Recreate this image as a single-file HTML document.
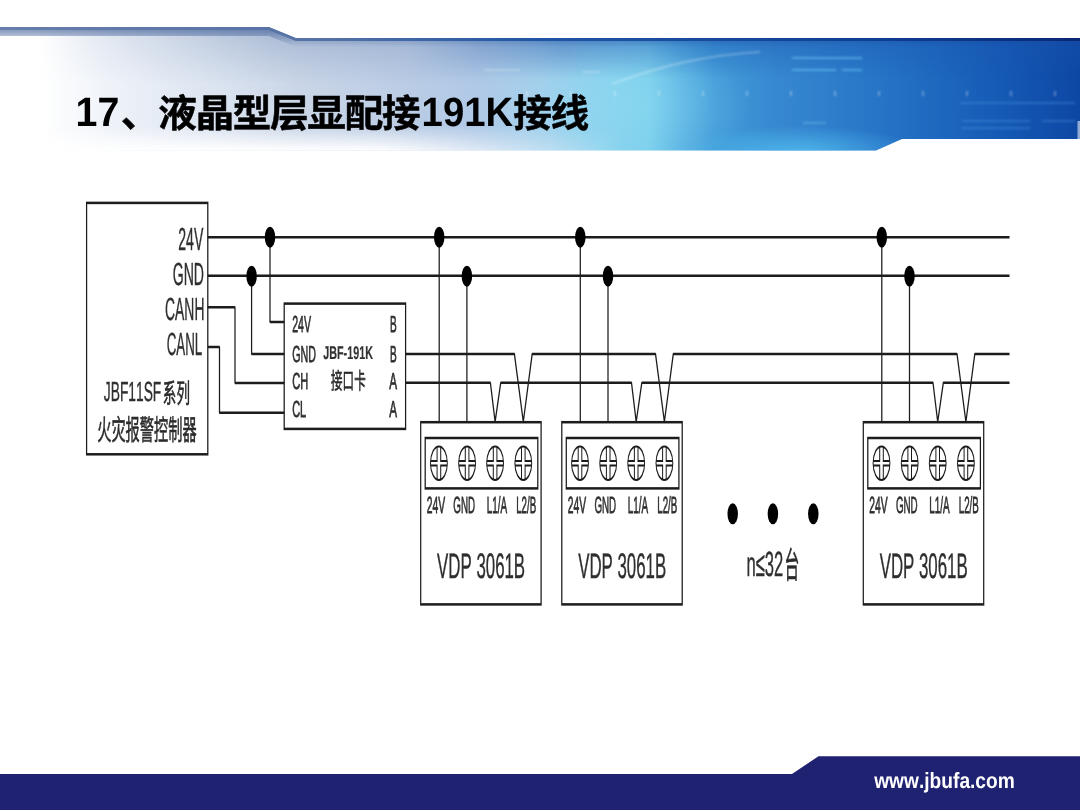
<!DOCTYPE html>
<html lang="zh"><head><meta charset="utf-8"><title>17、液晶型层显配接191K接线</title>
<style>
html,body{margin:0;padding:0;background:#fff;}
body{width:1080px;height:810px;overflow:hidden;position:relative;font-family:"Liberation Sans","Noto Sans CJK SC",sans-serif;}
svg{position:absolute;left:0;top:0;display:block;}
svg text{font-family:"Liberation Sans","Noto Sans CJK SC",sans-serif;font-kerning:none;font-variant-ligatures:none;text-rendering:geometricPrecision;}
</style></head>
<body>
<svg width="1080" height="810" viewBox="0 0 1080 810">
<defs>
<linearGradient id="bg" x1="0" y1="0" x2="1080" y2="0" gradientUnits="userSpaceOnUse">
<stop offset="0" stop-color="#ffffff"/>
<stop offset="0.04" stop-color="#ffffff"/>
<stop offset="0.10" stop-color="#eff3f9"/>
<stop offset="0.19" stop-color="#dde5f1"/>
<stop offset="0.28" stop-color="#c9d5e7"/>
<stop offset="0.37" stop-color="#bccde5"/>
<stop offset="0.44" stop-color="#b0c9e7"/>
<stop offset="0.50" stop-color="#a3d0ec"/>
<stop offset="0.56" stop-color="#8bd2ee"/>
<stop offset="0.60" stop-color="#7ccfec"/>
<stop offset="0.63" stop-color="#5ab3e3"/>
<stop offset="0.66" stop-color="#429cd9"/>
<stop offset="0.72" stop-color="#3688d0"/>
<stop offset="0.83" stop-color="#2471c5"/>
<stop offset="0.93" stop-color="#1559b5"/>
<stop offset="1" stop-color="#0d47a4"/>
</linearGradient>
<linearGradient id="edge" x1="0" y1="0" x2="1080" y2="0" gradientUnits="userSpaceOnUse">
<stop offset="0" stop-color="#667ea9"/>
<stop offset="0.3" stop-color="#5572a6"/>
<stop offset="0.5" stop-color="#1f55a4"/>
<stop offset="0.8" stop-color="#0f3f94"/>
<stop offset="1" stop-color="#0a2874"/>
</linearGradient>
<linearGradient id="fadeb" x1="0" y1="126" x2="0" y2="151" gradientUnits="userSpaceOnUse">
<stop offset="0" stop-color="#fff" stop-opacity="0"/>
<stop offset="1" stop-color="#fff" stop-opacity="1"/>
</linearGradient>
<linearGradient id="fadebx" x1="0" y1="0" x2="1080" y2="0" gradientUnits="userSpaceOnUse">
<stop offset="0" stop-color="#fff" stop-opacity="1"/>
<stop offset="0.35" stop-color="#fff" stop-opacity="1"/>
<stop offset="0.58" stop-color="#fff" stop-opacity="0"/>
</linearGradient>
<mask id="mfade"><rect x="0" y="120" width="1080" height="40" fill="url(#fadebx)"/></mask>
<linearGradient id="topsh" x1="0" y1="0" x2="0" y2="1">
<stop offset="0" stop-color="#173a80" stop-opacity="0.6"/>
<stop offset="1" stop-color="#173a80" stop-opacity="0"/>
</linearGradient>
<linearGradient id="topshx" x1="0" y1="0" x2="1080" y2="0" gradientUnits="userSpaceOnUse">
<stop offset="0.38" stop-color="#fff" stop-opacity="0"/>
<stop offset="0.52" stop-color="#fff" stop-opacity="1"/>
<stop offset="1" stop-color="#fff" stop-opacity="0.7"/>
</linearGradient>
<linearGradient id="topsh3" x1="0" y1="30" x2="0" y2="84" gradientUnits="userSpaceOnUse">
<stop offset="0" stop-color="#5f7aa8" stop-opacity="0.32"/>
<stop offset="1" stop-color="#5f7aa8" stop-opacity="0"/>
</linearGradient>
<linearGradient id="topsh3x" x1="0" y1="0" x2="1080" y2="0" gradientUnits="userSpaceOnUse">
<stop offset="0.03" stop-color="#fff" stop-opacity="0"/>
<stop offset="0.25" stop-color="#fff" stop-opacity="1"/>
<stop offset="0.45" stop-color="#fff" stop-opacity="1"/>
<stop offset="0.57" stop-color="#fff" stop-opacity="0"/>
</linearGradient>
<mask id="mtop3"><rect x="0" y="20" width="1080" height="70" fill="url(#topsh3x)"/></mask>
<linearGradient id="topsh2" x1="0" y1="38" x2="0" y2="78" gradientUnits="userSpaceOnUse">
<stop offset="0" stop-color="#1b55b0" stop-opacity="0.5"/>
<stop offset="1" stop-color="#1b55b0" stop-opacity="0"/>
</linearGradient>
<mask id="mtop"><rect x="0" y="20" width="1080" height="60" fill="url(#topshx)"/></mask>
<radialGradient id="glow" cx="800" cy="152" r="120" gradientUnits="userSpaceOnUse" gradientTransform="translate(800 152) scale(1 0.22) translate(-800 -152)">
<stop offset="0" stop-color="#55c4f2" stop-opacity="0.75"/>
<stop offset="1" stop-color="#55c4f2" stop-opacity="0"/>
</radialGradient>
<radialGradient id="glow2" cx="640" cy="105" r="110" gradientUnits="userSpaceOnUse" gradientTransform="translate(640 105) scale(1 0.6) translate(-640 -105)">
<stop offset="0" stop-color="#8fdcf2" stop-opacity="0.45"/>
<stop offset="1" stop-color="#8fdcf2" stop-opacity="0"/>
</radialGradient>
<clipPath id="bclip"><path d="M0 27H269L296 38H1080V139H902L876 150.5H0Z"/></clipPath>
<filter id="soft" x="-2%" y="-2%" width="104%" height="104%"><feGaussianBlur stdDeviation="0.45"/></filter>
<filter id="soft0" x="-2%" y="-10%" width="104%" height="120%"><feGaussianBlur stdDeviation="0.35"/></filter>
<filter id="soft2" x="-5%" y="-50%" width="110%" height="200%"><feGaussianBlur stdDeviation="0.8"/></filter>
</defs>
<g clip-path="url(#bclip)">
<rect x="0" y="20" width="1080" height="140" fill="url(#bg)"/>
<rect x="520" y="40" width="260" height="112" fill="url(#glow2)"/>
<rect x="640" y="120" width="330" height="32" fill="url(#glow)"/>
<path d="M0 27H269L296 38H1080V47H296L269 36H0Z" fill="url(#topsh)"/>
<rect x="400" y="38" width="680" height="40" fill="url(#topsh2)" mask="url(#mtop)"/>
<path d="M0 27H269L296 38H620V84H0Z" fill="url(#topsh3)" mask="url(#mtop3)"/>
<g filter="url(#soft2)" fill="none" stroke="#fff">
<path d="M612 84C660 66 705 55 760 52" stroke-opacity="0.32" stroke-width="1.6"/>
<path d="M792 58H862M792 70H836M842 70H862" stroke="#6cc6f5" stroke-opacity="0.55" stroke-width="2"/>
<path d="M960 103H1075M962 121H1030M1042 121H1075M962 128H1030" stroke="#4f9fe6" stroke-opacity="0.45" stroke-width="1.6"/>
<path d="M803 123H826" stroke="#7fd0f7" stroke-opacity="0.5" stroke-width="1.4"/>
<path d="M484 70H520M582 72H600" stroke-opacity="0.3" stroke-width="1.5"/>
<path d="M527 91V96M571 91V96M615 91V96M659 91V96M703 91V96M747 91V96M791 91V96M835 91V96M879 91V96M923 91V96M967 91V96M1011 91V96M1055 91V96" stroke-opacity="0.3" stroke-width="2"/>
</g>
<rect x="0" y="120" width="1080" height="40" fill="url(#fadeb)" mask="url(#mfade)"/>
<path d="M0 28.5H269L296 39.5H1080" fill="none" stroke="url(#edge)" stroke-width="3.2"/>
<rect x="1077.5" y="121" width="3" height="18" fill="#fff" fill-opacity="0.55"/>
</g>
<g filter="url(#soft0)"><g fill="#000"><text x="75.6" y="125.6" font-size="41" font-weight="bold" textLength="43.8" lengthAdjust="spacingAndGlyphs">17</text><text x="120.85 158.15 195.45 232.75 270.05 307.35 344.65 381.95" y="127.3" font-size="38.61" font-weight="bold" font-family="&quot;Liberation Sans&quot;,&quot;Noto Sans CJK SC&quot;,sans-serif" stroke="#000" stroke-width="0.5" stroke-linejoin="round">、液晶型层显配接</text><text x="421.6" y="125.6" font-size="41" font-weight="bold" textLength="91.5" lengthAdjust="spacingAndGlyphs">191K</text><text x="513.25 550.55" y="127.3" font-size="38.61" font-weight="bold" font-family="&quot;Liberation Sans&quot;,&quot;Noto Sans CJK SC&quot;,sans-serif" stroke="#000" stroke-width="0.5" stroke-linejoin="round">接线</text></g></g>
<g transform="scale(0.5 1)" filter="url(#soft)"><title>JBF11SF系列 火灾报警控制器 / JBF-191K 接口卡 / VDP 3061B / n≤32台</title>
<rect x="173.2" y="202.9" width="242.4" height="251.4" fill="none" stroke="#1c1c1c" stroke-width="2.5"/>
<rect x="568.4" y="303.6" width="242.8" height="125.3" fill="none" stroke="#1c1c1c" stroke-width="2.5"/>
<polyline points="415.6,237.2 2019.0,237.2" fill="none" stroke="#1c1c1c" stroke-width="2.5" stroke-linejoin="bevel"/>
<polyline points="415.6,275.7 2019.0,275.7" fill="none" stroke="#1c1c1c" stroke-width="2.5" stroke-linejoin="bevel"/>
<polyline points="415.6,307.2 470,307.2 470,382.9 568.4,382.9" fill="none" stroke="#1c1c1c" stroke-width="2.5" stroke-linejoin="bevel"/>
<polyline points="415.6,347.0 439.0,347.0 439.0,412.7 568.4,412.7" fill="none" stroke="#1c1c1c" stroke-width="2.5" stroke-linejoin="bevel"/>
<polyline points="540,237.2 540,322 568.4,322" fill="none" stroke="#1c1c1c" stroke-width="2.5" stroke-linejoin="bevel"/>
<polyline points="503.2,275.7 503.2,354 568.4,354" fill="none" stroke="#1c1c1c" stroke-width="2.5" stroke-linejoin="bevel"/>
<circle cx="540" cy="237.2" r="10.5" fill="#000"/>
<circle cx="503.2" cy="276.2" r="10.5" fill="#000"/>
<polyline points="811.2,353.9 1028.8,353.9 1046.6,421.8 1064.4,353.9 1311.0,353.9 1328.8,421.8 1346.6,353.9 1914.0,353.9 1931.8,421.8 1949.6,353.9 2019.0,353.9" fill="none" stroke="#1c1c1c" stroke-width="2.5" stroke-linejoin="bevel"/>
<polyline points="811.2,382.8 980.8,382.8 990.2,421.8 1001.4,382.8 1263.0,382.8 1272.4,421.8 1283.6,382.8 1866.0,382.8 1875.4,421.8 1886.6,382.8 2019.0,382.8" fill="none" stroke="#1c1c1c" stroke-width="2.5" stroke-linejoin="bevel"/>
<rect x="841.4" y="422.2" width="240.8" height="182.2" fill="none" stroke="#1c1c1c" stroke-width="2.5"/>
<rect x="850.4" y="438.0" width="225.2" height="50.4" fill="none" stroke="#1c1c1c" stroke-width="2.5"/>
<polyline points="878.4,237.2 878.4,422.2" fill="none" stroke="#1c1c1c" stroke-width="2.5" stroke-linejoin="bevel"/>
<polyline points="933.8,275.7 933.8,422.2" fill="none" stroke="#1c1c1c" stroke-width="2.5" stroke-linejoin="bevel"/>
<circle cx="878.4" cy="237.2" r="10.5" fill="#000"/>
<circle cx="933.8" cy="276.2" r="10.5" fill="#000"/>
<g transform="translate(877.8 463.2)" fill="none" stroke="#1c1c1c" stroke-width="2"><circle r="16.8"/><path d="M-16.6 -2.3H-3.6V-16.4 M3.6 -16.4V-2.3H16.6 M-16.6 2.3H-3.6V16.4 M3.6 16.4V2.3H16.6"/></g>
<g transform="translate(934.2 463.2)" fill="none" stroke="#1c1c1c" stroke-width="2"><circle r="16.8"/><path d="M-16.6 -2.3H-3.6V-16.4 M3.6 -16.4V-2.3H16.6 M-16.6 2.3H-3.6V16.4 M3.6 16.4V2.3H16.6"/></g>
<g transform="translate(990.2 463.2)" fill="none" stroke="#1c1c1c" stroke-width="2"><circle r="16.8"/><path d="M-16.6 -2.3H-3.6V-16.4 M3.6 -16.4V-2.3H16.6 M-16.6 2.3H-3.6V16.4 M3.6 16.4V2.3H16.6"/></g>
<g transform="translate(1046.6 463.2)" fill="none" stroke="#1c1c1c" stroke-width="2"><circle r="16.8"/><path d="M-16.6 -2.3H-3.6V-16.4 M3.6 -16.4V-2.3H16.6 M-16.6 2.3H-3.6V16.4 M3.6 16.4V2.3H16.6"/></g>
<text x="853.4" y="512.6" font-size="23.4" font-weight="normal" textLength="36.8" lengthAdjust="spacingAndGlyphs" fill="#2e2e2e" stroke="#2e2e2e" stroke-width="0.75">24V</text>
<text x="906.6" y="512.6" font-size="23.4" font-weight="normal" textLength="43.6" lengthAdjust="spacingAndGlyphs" fill="#2e2e2e" stroke="#2e2e2e" stroke-width="0.75">GND</text>
<text x="973.4" y="512.6" font-size="23.4" font-weight="normal" textLength="40.8" lengthAdjust="spacingAndGlyphs" fill="#2e2e2e" stroke="#2e2e2e" stroke-width="0.75">L1/A</text>
<text x="1032.4" y="512.6" font-size="23.4" font-weight="normal" textLength="40.0" lengthAdjust="spacingAndGlyphs" fill="#2e2e2e" stroke="#2e2e2e" stroke-width="0.75">L2/B</text>
<text x="874.2" y="578.4" font-size="35.5" font-weight="normal" textLength="176.0" lengthAdjust="spacingAndGlyphs" fill="#2e2e2e" stroke="#2e2e2e" stroke-width="0.4">VDP 3061B</text>
<rect x="1123.6" y="422.2" width="240.8" height="182.2" fill="none" stroke="#1c1c1c" stroke-width="2.5"/>
<rect x="1132.6" y="438.0" width="225.2" height="50.4" fill="none" stroke="#1c1c1c" stroke-width="2.5"/>
<polyline points="1160.6,237.2 1160.6,422.2" fill="none" stroke="#1c1c1c" stroke-width="2.5" stroke-linejoin="bevel"/>
<polyline points="1216.0,275.7 1216.0,422.2" fill="none" stroke="#1c1c1c" stroke-width="2.5" stroke-linejoin="bevel"/>
<circle cx="1160.6" cy="237.2" r="10.5" fill="#000"/>
<circle cx="1216.0" cy="276.2" r="10.5" fill="#000"/>
<g transform="translate(1160.0 463.2)" fill="none" stroke="#1c1c1c" stroke-width="2"><circle r="16.8"/><path d="M-16.6 -2.3H-3.6V-16.4 M3.6 -16.4V-2.3H16.6 M-16.6 2.3H-3.6V16.4 M3.6 16.4V2.3H16.6"/></g>
<g transform="translate(1216.4 463.2)" fill="none" stroke="#1c1c1c" stroke-width="2"><circle r="16.8"/><path d="M-16.6 -2.3H-3.6V-16.4 M3.6 -16.4V-2.3H16.6 M-16.6 2.3H-3.6V16.4 M3.6 16.4V2.3H16.6"/></g>
<g transform="translate(1272.4 463.2)" fill="none" stroke="#1c1c1c" stroke-width="2"><circle r="16.8"/><path d="M-16.6 -2.3H-3.6V-16.4 M3.6 -16.4V-2.3H16.6 M-16.6 2.3H-3.6V16.4 M3.6 16.4V2.3H16.6"/></g>
<g transform="translate(1328.8 463.2)" fill="none" stroke="#1c1c1c" stroke-width="2"><circle r="16.8"/><path d="M-16.6 -2.3H-3.6V-16.4 M3.6 -16.4V-2.3H16.6 M-16.6 2.3H-3.6V16.4 M3.6 16.4V2.3H16.6"/></g>
<text x="1135.6" y="512.6" font-size="23.4" font-weight="normal" textLength="36.8" lengthAdjust="spacingAndGlyphs" fill="#2e2e2e" stroke="#2e2e2e" stroke-width="0.75">24V</text>
<text x="1188.8" y="512.6" font-size="23.4" font-weight="normal" textLength="43.6" lengthAdjust="spacingAndGlyphs" fill="#2e2e2e" stroke="#2e2e2e" stroke-width="0.75">GND</text>
<text x="1255.6" y="512.6" font-size="23.4" font-weight="normal" textLength="40.8" lengthAdjust="spacingAndGlyphs" fill="#2e2e2e" stroke="#2e2e2e" stroke-width="0.75">L1/A</text>
<text x="1314.6" y="512.6" font-size="23.4" font-weight="normal" textLength="40.0" lengthAdjust="spacingAndGlyphs" fill="#2e2e2e" stroke="#2e2e2e" stroke-width="0.75">L2/B</text>
<text x="1156.4" y="578.4" font-size="35.5" font-weight="normal" textLength="176.0" lengthAdjust="spacingAndGlyphs" fill="#2e2e2e" stroke="#2e2e2e" stroke-width="0.4">VDP 3061B</text>
<rect x="1726.6" y="422.2" width="240.8" height="182.2" fill="none" stroke="#1c1c1c" stroke-width="2.5"/>
<rect x="1735.6" y="438.0" width="225.2" height="50.4" fill="none" stroke="#1c1c1c" stroke-width="2.5"/>
<polyline points="1763.6,237.2 1763.6,422.2" fill="none" stroke="#1c1c1c" stroke-width="2.5" stroke-linejoin="bevel"/>
<polyline points="1819.0,275.7 1819.0,422.2" fill="none" stroke="#1c1c1c" stroke-width="2.5" stroke-linejoin="bevel"/>
<circle cx="1763.6" cy="237.2" r="10.5" fill="#000"/>
<circle cx="1819.0" cy="276.2" r="10.5" fill="#000"/>
<g transform="translate(1763.0 463.2)" fill="none" stroke="#1c1c1c" stroke-width="2"><circle r="16.8"/><path d="M-16.6 -2.3H-3.6V-16.4 M3.6 -16.4V-2.3H16.6 M-16.6 2.3H-3.6V16.4 M3.6 16.4V2.3H16.6"/></g>
<g transform="translate(1819.4 463.2)" fill="none" stroke="#1c1c1c" stroke-width="2"><circle r="16.8"/><path d="M-16.6 -2.3H-3.6V-16.4 M3.6 -16.4V-2.3H16.6 M-16.6 2.3H-3.6V16.4 M3.6 16.4V2.3H16.6"/></g>
<g transform="translate(1875.4 463.2)" fill="none" stroke="#1c1c1c" stroke-width="2"><circle r="16.8"/><path d="M-16.6 -2.3H-3.6V-16.4 M3.6 -16.4V-2.3H16.6 M-16.6 2.3H-3.6V16.4 M3.6 16.4V2.3H16.6"/></g>
<g transform="translate(1931.8 463.2)" fill="none" stroke="#1c1c1c" stroke-width="2"><circle r="16.8"/><path d="M-16.6 -2.3H-3.6V-16.4 M3.6 -16.4V-2.3H16.6 M-16.6 2.3H-3.6V16.4 M3.6 16.4V2.3H16.6"/></g>
<text x="1738.6" y="512.6" font-size="23.4" font-weight="normal" textLength="36.8" lengthAdjust="spacingAndGlyphs" fill="#2e2e2e" stroke="#2e2e2e" stroke-width="0.75">24V</text>
<text x="1791.8" y="512.6" font-size="23.4" font-weight="normal" textLength="43.6" lengthAdjust="spacingAndGlyphs" fill="#2e2e2e" stroke="#2e2e2e" stroke-width="0.75">GND</text>
<text x="1858.6" y="512.6" font-size="23.4" font-weight="normal" textLength="40.8" lengthAdjust="spacingAndGlyphs" fill="#2e2e2e" stroke="#2e2e2e" stroke-width="0.75">L1/A</text>
<text x="1917.6" y="512.6" font-size="23.4" font-weight="normal" textLength="40.0" lengthAdjust="spacingAndGlyphs" fill="#2e2e2e" stroke="#2e2e2e" stroke-width="0.75">L2/B</text>
<text x="1759.4" y="578.4" font-size="35.5" font-weight="normal" textLength="176.0" lengthAdjust="spacingAndGlyphs" fill="#2e2e2e" stroke="#2e2e2e" stroke-width="0.4">VDP 3061B</text>
<text x="356.4" y="249.6" font-size="32" font-weight="normal" textLength="50.2" lengthAdjust="spacingAndGlyphs" fill="#2e2e2e" stroke="#2e2e2e" stroke-width="0.4">24V</text>
<text x="345.4" y="284.5" font-size="32" font-weight="normal" textLength="62.6" lengthAdjust="spacingAndGlyphs" fill="#2e2e2e" stroke="#2e2e2e" stroke-width="0.4">GND</text>
<text x="330.2" y="320.0" font-size="32" font-weight="normal" textLength="78.6" lengthAdjust="spacingAndGlyphs" fill="#2e2e2e" stroke="#2e2e2e" stroke-width="0.4">CANH</text>
<text x="333.4" y="354.9" font-size="32" font-weight="normal" textLength="71.0" lengthAdjust="spacingAndGlyphs" fill="#2e2e2e" stroke="#2e2e2e" stroke-width="0.4">CANL</text>
<text x="207.6" y="400.8" font-size="27.6" font-weight="normal" textLength="115.0" lengthAdjust="spacingAndGlyphs" fill="#2e2e2e" stroke="#2e2e2e" stroke-width="0.4">JBF11SF</text>
<text x="325.6 353.0" y="403.0" font-size="27" font-family="&quot;Liberation Sans&quot;,&quot;Noto Sans CJK SC&quot;,sans-serif" fill="#2a2a2a" stroke="#2a2a2a" stroke-width="0.6">系列</text>
<text x="194.4 222.8 251.2 279.6 308.0 336.4 364.8" y="439.9" font-size="28.4" font-family="&quot;Liberation Sans&quot;,&quot;Noto Sans CJK SC&quot;,sans-serif" fill="#2a2a2a" stroke="#2a2a2a" stroke-width="0.6">火灾报警控制器</text>
<text x="584.4" y="332.3" font-size="23.2" font-weight="normal" textLength="37.8" lengthAdjust="spacingAndGlyphs" fill="#2e2e2e" stroke="#2e2e2e" stroke-width="0.75">24V</text>
<text x="584.4" y="361.6" font-size="23.2" font-weight="normal" textLength="47.6" lengthAdjust="spacingAndGlyphs" fill="#2e2e2e" stroke="#2e2e2e" stroke-width="0.75">GND</text>
<text x="584.4" y="389.0" font-size="23.2" font-weight="normal" textLength="32.0" lengthAdjust="spacingAndGlyphs" fill="#2e2e2e" stroke="#2e2e2e" stroke-width="0.75">CH</text>
<text x="584.4" y="416.8" font-size="23.2" font-weight="normal" textLength="28.0" lengthAdjust="spacingAndGlyphs" fill="#2e2e2e" stroke="#2e2e2e" stroke-width="0.75">CL</text>
<text x="780.0" y="332.3" font-size="23.2" font-weight="normal" textLength="13.4" lengthAdjust="spacingAndGlyphs" fill="#2e2e2e" stroke="#2e2e2e" stroke-width="0.75">B</text>
<text x="780.0" y="361.6" font-size="23.2" font-weight="normal" textLength="13.4" lengthAdjust="spacingAndGlyphs" fill="#2e2e2e" stroke="#2e2e2e" stroke-width="0.75">B</text>
<text x="778.4" y="389.0" font-size="23.2" font-weight="normal" textLength="15.6" lengthAdjust="spacingAndGlyphs" fill="#2e2e2e" stroke="#2e2e2e" stroke-width="0.75">A</text>
<text x="778.4" y="416.8" font-size="23.2" font-weight="normal" textLength="15.6" lengthAdjust="spacingAndGlyphs" fill="#2e2e2e" stroke="#2e2e2e" stroke-width="0.75">A</text>
<text x="646.6" y="359.4" font-size="18.4" font-weight="bold" textLength="99.2" lengthAdjust="spacingAndGlyphs" fill="#333" stroke="#333" stroke-width="0.2">JBF-191K</text>
<text x="662.0 685.2 708.4" y="388.8" font-size="23" font-family="&quot;Liberation Sans&quot;,&quot;Noto Sans CJK SC&quot;,sans-serif" fill="#2a2a2a" stroke="#2a2a2a" stroke-width="0.6">接口卡</text>
<circle cx="1465.4" cy="513.8" r="10.5" fill="#000"/>
<circle cx="1545.8" cy="513.8" r="10.5" fill="#000"/>
<circle cx="1626.6" cy="513.8" r="10.5" fill="#000"/>
<text x="1492.8" y="576.4" font-size="35" font-weight="normal" textLength="73.6" lengthAdjust="spacingAndGlyphs" fill="#2e2e2e" stroke="#2e2e2e" stroke-width="0.4">n≤32</text>
<text transform="translate(1569.2 578.0) scale(0.82 1)" x="0" y="0" font-size="36" font-family="&quot;Liberation Sans&quot;,&quot;Noto Sans CJK SC&quot;,sans-serif" fill="#2a2a2a" stroke="#2a2a2a" stroke-width="0.6">台</text>
</g>
<path d="M0 774H792L818.5 756.2H1080V810H0Z" fill="#1f2171"/>
<text x="874.2" y="788" font-size="22" font-weight="bold" fill="#fff" filter="url(#soft0)" textLength="140.6" lengthAdjust="spacingAndGlyphs">www.jbufa.com</text>
</svg>
</body></html>
